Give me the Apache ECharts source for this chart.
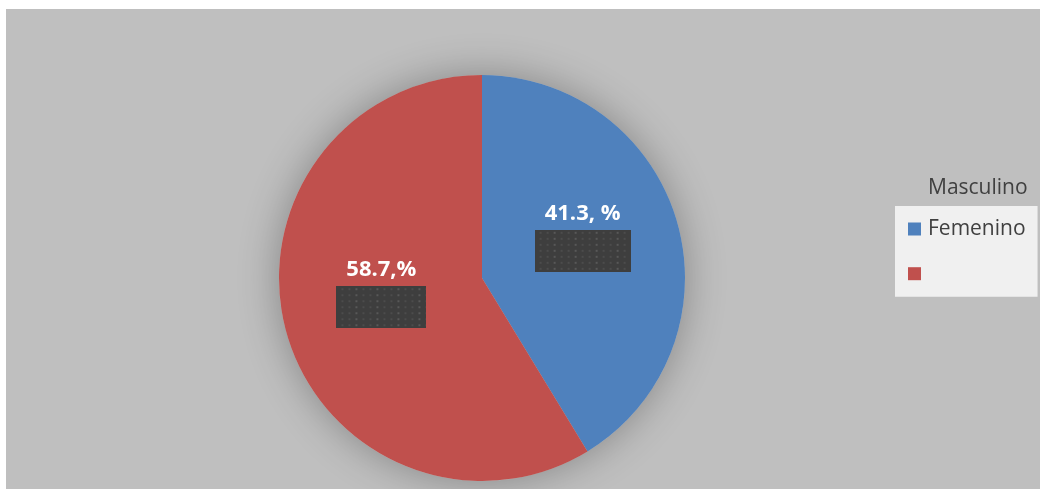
<!DOCTYPE html>
<html>
<head>
<meta charset="utf-8">
<script src="https://cdn.jsdelivr.net/npm/echarts@6/dist/echarts.min.js"></script>
<style>
  html, body { margin: 0; padding: 0; background: #ffffff; }
  #panel { position: absolute; left: 6px; top: 9px; right: 0; bottom: 0; background: #bfbfbf; }
  #chart { position: absolute; left: 0; top: 0; width: 1040px; height: 489px; }
</style>
</head>
<body>
<div id="panel"></div>
<div id="chart"></div>
<script>
// Distribución por sexo (%)
const categories = ['Femenino', 'Masculino'];
const values = [41.3, 58.7];
const labelSuffixes = [', %', ',%'];
const colors = ['#4f81bd', '#c0504d'];
const legendTitle = 'Masculino';

const PIE_CENTER = [482, 278];
const PIE_RADIUS = 203;
const LABEL_FONT = 'bold 22px "Open Sans"';

// width of a label string, used to size the dark plate under it
const measureCtx = document.createElement('canvas').getContext('2d');
function textWidth(str) {
  measureCtx.font = LABEL_FONT;
  return measureCtx.measureText(str).width;
}

// dotted dark plate drawn under each value label
function platePattern(w, h) {
  const c = document.createElement('canvas');
  c.width = Math.ceil(w);
  c.height = h;
  const g = c.getContext('2d');
  g.fillStyle = '#3e3e3e';
  g.fillRect(0, 0, c.width, c.height);
  for (let y = 2; y < h; y += 6) {
    for (let x = (y / 6) % 2 ? 5 : 2; x < c.width; x += 7) {
      g.fillStyle = (x + y) % 3 ? '#4c4c4c' : '#585858';
      g.fillRect(x, y, 2, 2);
    }
  }
  return c;
}

const pieData = categories.map(function (name, i) {
  const text = values[i] + labelSuffixes[i];
  const w = Math.round(textWidth(text) + 20);
  return {
    name: name,
    value: values[i],
    itemStyle: { color: colors[i] },
    label: {
      formatter: '{v|' + text + '}\n{b|}',
      rich: {
        v: {
          fontFamily: 'Open Sans', fontWeight: 'bold', fontSize: 22,
          color: '#ffffff', lineHeight: 32, align: 'center'
        },
        b: {
          width: w, height: 42, lineHeight: 42, align: 'center',
          backgroundColor: { image: platePattern(w, 42) },
          shadowColor: 'rgba(0,0,0,0.35)', shadowBlur: 4,
          shadowOffsetX: 4, shadowOffsetY: 5
        }
      }
    }
  };
});

const chart = echarts.init(document.getElementById('chart'), null, { renderer: 'canvas' });

chart.setOption({
  animation: false,
  backgroundColor: 'transparent',
  title: {
    text: legendTitle,
    left: 928, top: 176, padding: 0,
    textStyle: {
      fontFamily: 'Open Sans', fontWeight: 'normal', fontSize: 21,
      color: '#404040', lineHeight: 24
    }
  },
  legend: {
    data: categories,
    orient: 'vertical',
    left: 895, top: 206,
    padding: [12, 12, 12, 13],
    itemGap: 22.7,
    itemWidth: 13, itemHeight: 13,
    icon: 'rect',
    backgroundColor: '#f0f0f0',
    selectedMode: false,
    formatter: function (name) { return name === legendTitle ? ' ' : name; },
    textStyle: {
      fontFamily: 'Open Sans', fontSize: 21, color: '#404040',
      lineHeight: 22, padding: [0, 0, 0, 2]
    }
  },
  series: [
    {
      // soft halo behind the pie
      type: 'pie', name: 'halo', silent: true, z: 1,
      center: PIE_CENTER, radius: PIE_RADIUS,
      label: { show: false }, labelLine: { show: false },
      emphasis: { disabled: true },
      itemStyle: {
        color: '#bfbfbf', shadowBlur: 40, shadowColor: 'rgba(0,0,0,0.3)'
      },
      data: [{ value: 1, name: 'halo' }]
    },
    {
      type: 'pie', name: 'Sexo', z: 2,
      center: PIE_CENTER, radius: PIE_RADIUS,
      startAngle: 90, clockwise: true,
      emphasis: { disabled: true },
      label: { show: true, position: 'inside', offset: [0, -15] },
      labelLine: { show: false },
      itemStyle: { borderWidth: 0 },
      data: pieData
    }
  ]
});
</script>
</body>
</html>
